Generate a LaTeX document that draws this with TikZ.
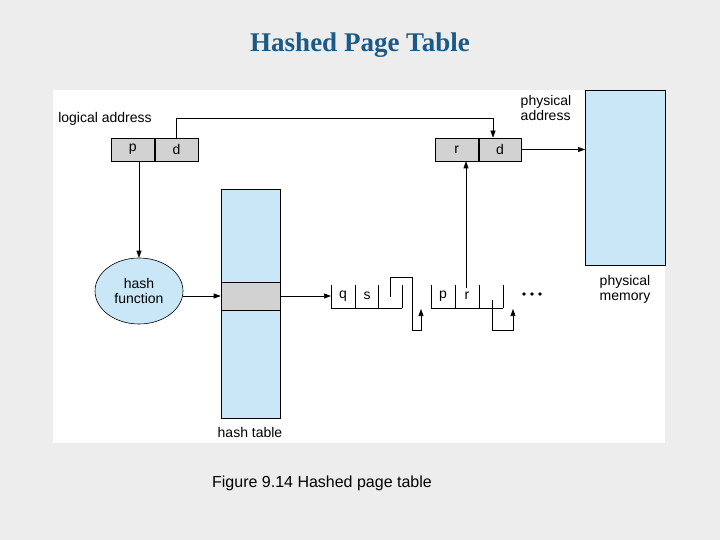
\documentclass[tikz,border=0pt]{standalone}
\usepackage{fontspec}
\setmainfont{Liberation Sans}
\newfontfamily\titlefont{Liberation Serif}
\usetikzlibrary{positioning,arrows.meta,shapes.geometric}
\definecolor{memblue}{HTML}{C9E7F7}
\definecolor{cellgray}{HTML}{D2D2D2}
\definecolor{titleblue}{HTML}{1A5A86}
\tikzset{
    cell/.style={draw, fill=cellgray, minimum height=23pt, inner sep=0pt, font=\fontsize{14}{15}\selectfont},
    lbl/.style={font=\fontsize{14}{15}\selectfont, align=left, inner sep=0pt},
    ptr/.style={-{Triangle[length=7pt,width=5pt]}},
}
\begin{document}
\begin{tikzpicture}[x=1pt, y=-1pt, semithick]
    \fill[gray!14] (0,0) rectangle (720,540);
    \fill[white] (53,90) rectangle (665,443);
    \useasboundingbox (0,0) rectangle (720,540);
    % title and caption
    \node[font=\titlefont\bfseries\fontsize{27}{29}\selectfont, text=titleblue] at (360,45) {Hashed Page Table};
    \node[lbl, font=\fontsize{16}{18}\selectfont] at (322,483) {Figure 9.14 Hashed page table};
    % logical address
    \node[lbl] (la) at (105,119) {logical address};
    \node[cell, minimum width=43pt, anchor=west] (p) at (111,149.5) {p};
    \node[cell, minimum width=43pt, right=0pt of p] (d) {d};
    % physical address
    \node[lbl, align=left] (pa) at (546,108) {physical\\address};
    \node[cell, minimum width=43pt, anchor=west] (r) at (435,149.5) {r};
    \node[cell, minimum width=42pt, right=0pt of r] (d2) {d};
    % physical memory
    \draw[fill=memblue] (585,90) rectangle (665,265);
    \coordinate (mem) at (585,149.5);
    \node[lbl] (pm) at (625,289) {physical\\memory};
    % hash table
    \draw[fill=memblue] (221,189) rectangle (280,418);
    \node[draw, fill=cellgray, minimum width=59pt, minimum height=28pt, inner sep=0pt] (entry) at (250.5,296) {};
    \node[lbl] (ht) at (250,432) {hash table};
    % hash function
    \node[ellipse, draw, fill=memblue, minimum width=88pt, minimum height=66pt, lbl, align=center] (hf) at (139,291) {hash\\function};
    % chain
    \foreach \x/\t in {331/q,355/s,378/,431/p,455/r,479/} {
        \draw (\x,285) -- (\x,308) -- (\x+24,308);
        \node[lbl] at (\x+12,296) {\t};
    }
    \draw (402,285) -- (402,308);
    \draw (503,285) -- (503,308);
    \coordinate (c1) at (331,296);
    \coordinate (c2) at (466,288);
    \coordinate (n1) at (421,309);
    \coordinate (n2) at (513,309);
    \foreach \x in {524,532,540}
        \fill (\x,294) circle (1.8);
    % connectors
    \draw[ptr] (d.north) |- (493,118) -- (d2.north -| 493,0);
    \draw[ptr] (d2.east) -- (mem);
    \draw[ptr] (hf.north |- p.south) -- (hf.north);
    \draw[ptr] (hf.east |- entry) -- (entry.west);
    \draw[ptr] (entry.east) -- (c1);
    \draw[ptr] (390,297) -- (390,277) -- (412,277) -- (412,330) -- (421,330) -- (n1);
    \draw[ptr] (492,300) -- (492,330) -- (513,330) -- (n2);
    \draw[ptr] (c2) -- (r.south -| c2);
\end{tikzpicture}
\end{document}
